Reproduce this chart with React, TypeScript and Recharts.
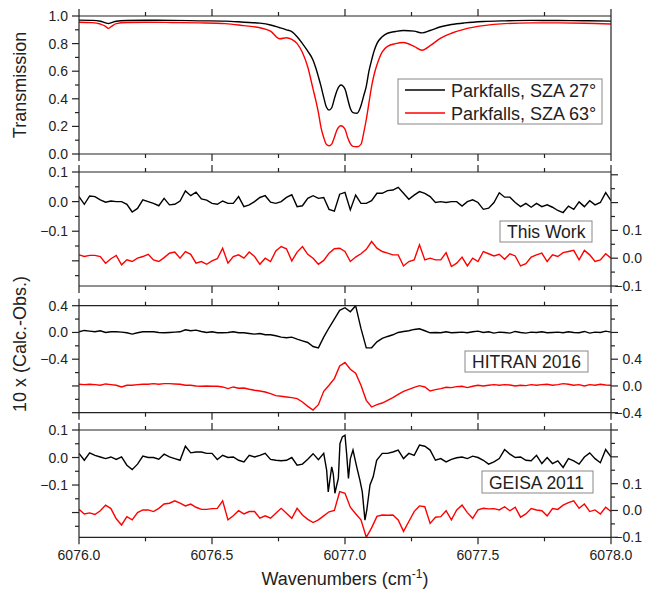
import React from "react";
import { LineChart, Line, XAxis, YAxis } from "recharts";

const FONT = "'Liberation Sans', Arial, Helvetica, sans-serif";
const AXIS = "#222";
const W = 649;
const H = 590;

// x grid of the residual panels (cm-1)
const residX = Array.from({ length: 101 }, (_, i) => Math.round((6076 + i * 0.02) * 100) / 100);

// transmission spectra
const transX = [
  6076.0, 6076.05, 6076.08, 6076.1, 6076.11, 6076.12, 6076.14, 6076.18, 6076.25, 6076.35,
  6076.45, 6076.55, 6076.62, 6076.68, 6076.72, 6076.755, 6076.78, 6076.8, 6076.82, 6076.84,
  6076.86, 6076.88, 6076.89, 6076.9, 6076.91, 6076.92, 6076.93, 6076.94, 6076.95, 6076.96,
  6076.97, 6076.985, 6077.0, 6077.01, 6077.02, 6077.03, 6077.045, 6077.06, 6077.07, 6077.08,
  6077.09, 6077.1, 6077.11, 6077.12, 6077.14, 6077.16, 6077.19, 6077.22, 6077.26, 6077.29,
  6077.32, 6077.36, 6077.4, 6077.45, 6077.52, 6077.6, 6077.7, 6077.8, 6077.9, 6078.0,
];
const sza27 = [
  0.97, 0.968, 0.962, 0.95, 0.945, 0.95, 0.962, 0.967, 0.969, 0.968,
  0.965, 0.963, 0.955, 0.948, 0.935, 0.915, 0.9, 0.887, 0.85, 0.8,
  0.745, 0.68, 0.625, 0.56, 0.49, 0.41, 0.34, 0.318, 0.335, 0.4,
  0.46, 0.5, 0.47, 0.4, 0.33, 0.3, 0.295, 0.35, 0.42, 0.49,
  0.6, 0.68, 0.75, 0.8, 0.85, 0.875, 0.888, 0.895, 0.89, 0.878,
  0.895, 0.922, 0.938, 0.95, 0.96, 0.965, 0.968, 0.967, 0.966, 0.963,
];
const sza63 = [
  0.955, 0.952, 0.942, 0.925, 0.91, 0.922, 0.945, 0.953, 0.955, 0.953,
  0.95, 0.945, 0.93, 0.915, 0.89, 0.835, 0.842, 0.83, 0.8, 0.735,
  0.63, 0.47, 0.39, 0.3, 0.19, 0.12, 0.07, 0.06, 0.072, 0.12,
  0.175, 0.205, 0.18, 0.12, 0.075, 0.055, 0.052, 0.07, 0.15, 0.25,
  0.37, 0.49, 0.58, 0.645, 0.74, 0.78, 0.8, 0.808, 0.78, 0.752,
  0.785, 0.84, 0.875, 0.905, 0.93, 0.945, 0.95, 0.95, 0.948, 0.942,
];

// residuals, This Work
const thisWork27 = [
  0.017, -0.009, 0.019, 0.017, 0.006, -0.002, 0.002, 0.0, 0.0, -0.009,
  -0.035, -0.023, 0.006, 0.0, -0.006, -0.014, 0.011, -0.011, -0.009, 0.002,
  0.036, 0.02, 0.032, 0.009, 0.005, -0.006, -0.009, 0.002, -0.006, -0.006,
  0.017, -0.017, -0.011, 0.0, 0.014, 0.02, -0.002, -0.006, 0.0, 0.014,
  0.023, -0.017, -0.014, 0.011, 0.02, 0.011, 0.014, -0.026, -0.032, 0.025,
  0.031, -0.028, 0.022, -0.006, -0.006, 0.003, 0.028, 0.028, 0.037, 0.039,
  0.048, 0.028, 0.008, 0.022, 0.034, 0.028, 0.017, -0.003, 0.0, -0.003,
  0.0, 0.0, -0.015, 0.0, 0.006, -0.003, -0.026, -0.022, -0.003, 0.03,
  0.015, 0.015, -0.003, -0.017, -0.006, -0.019, -0.006, -0.017, -0.011, -0.019,
  -0.03, -0.037, -0.015, -0.026, -0.001, -0.017, 0.003, -0.011, -0.003, 0.03,
  0.003,
];
const thisWork63 = [
  0.012, 0.006, 0.01, 0.01, 0.006, -0.018, -0.002, 0.01, -0.024, -0.006,
  -0.012, 0.0, 0.006, 0.014, -0.006, -0.012, 0.002, 0.018, 0.022, 0.0,
  0.024, 0.014, -0.018, -0.012, -0.022, -0.01, -0.002, 0.036, -0.018, 0.006,
  0.012, 0.0, 0.022, 0.006, -0.022, 0.0, -0.012, 0.026, 0.042, 0.034,
  -0.01, 0.022, 0.042, 0.014, 0.0, -0.022, -0.008, 0.018, 0.034, 0.036,
  0.024, -0.012, 0.004, 0.016, 0.032, 0.06, 0.036, 0.024, 0.018, 0.012,
  0.012, -0.028, -0.012, -0.006, 0.048, -0.006, 0.0, -0.006, -0.006, 0.02,
  -0.03, -0.018, 0.004, -0.028, 0.0, -0.012, 0.024, 0.016, 0.008, 0.014,
  -0.004, 0.016, 0.008, -0.028, -0.02, 0.004, 0.012, 0.018, -0.012, 0.012,
  0.006, 0.02, 0.024, 0.028, -0.006, 0.028, 0.012, -0.012, -0.006, 0.016,
  0.0,
];

// residuals, HITRAN 2016
const hitran27 = [
  0.01, 0.03, 0.02, 0.01, 0.025, 0.0, 0.01, 0.01, 0.005, -0.005,
  -0.025, -0.005, 0.01, 0.01, 0.01, 0.0, -0.005, 0.0, 0.005, 0.01,
  0.04, 0.025, 0.035, 0.015, 0.0, 0.01, -0.005, -0.005, 0.0, 0.01,
  -0.005, -0.005, -0.015, -0.025, -0.015, -0.035, -0.035, -0.05, -0.07, -0.08,
  -0.07, -0.1, -0.125, -0.15, -0.21, -0.23, -0.07, 0.07, 0.2, 0.33,
  0.37, 0.31, 0.4, 0.06, -0.23, -0.23, -0.14, -0.09, -0.06, -0.035,
  0.0, 0.015, 0.025, 0.045, 0.055, 0.025, -0.005, 0.0, -0.005, 0.01,
  -0.005, 0.0, 0.005, -0.005, 0.01, 0.02, 0.0, 0.01, -0.01, 0.005,
  0.0, -0.01, 0.015, 0.0, -0.01, 0.005, 0.0, 0.01, -0.005, 0.0,
  0.005, -0.005, 0.01, 0.0, -0.005, 0.015, -0.01, 0.005, 0.0, 0.02,
  0.005,
];
const hitran63 = [
  0.025, 0.02, 0.025, 0.02, 0.01, 0.03, 0.02, 0.01, -0.015, 0.01,
  0.01, 0.02, 0.025, 0.025, 0.035, 0.025, 0.035, 0.035, 0.03, 0.025,
  0.01, 0.01, 0.0, -0.005, 0.0, -0.005, -0.005, -0.015, -0.04, -0.015,
  -0.035, -0.03, -0.05, -0.065, -0.075, -0.09, -0.115, -0.145, -0.155, -0.165,
  -0.175, -0.19, -0.24, -0.305, -0.36, -0.28, -0.08, 0.01, 0.11, 0.3,
  0.35, 0.25, 0.19, 0.01, -0.215, -0.315, -0.28, -0.255, -0.215, -0.175,
  -0.125, -0.08, -0.05, -0.02, 0.005, -0.015, -0.075, -0.055, -0.04, -0.02,
  -0.025, -0.01, -0.005, -0.025, -0.005, 0.01, 0.0, 0.01, 0.02, 0.01,
  0.02, 0.015, 0.0, 0.01, 0.005, 0.02, 0.01, 0.02, 0.025, 0.01,
  0.02, 0.035, 0.025, 0.01, 0.02, 0.0, 0.02, 0.01, 0.025, 0.015,
  0.01,
];

// residuals, GEISA 2011 (black one sampled finer around the line centre)
const geisaCoreX = [
  6076.931, 6076.937, 6076.944, 6076.95, 6076.956, 6076.962, 6076.969, 6076.975, 6076.981, 6076.99,
  6077.0, 6077.006, 6077.013, 6077.02, 6077.03, 6077.044, 6077.056, 6077.065, 6077.075, 6077.082,
  6077.094, 6077.106, 6077.119,
];
const geisa27X = [...residX.slice(0, 47), ...geisaCoreX, ...residX.slice(57)];
const geisa27 = [
  0.015, -0.01, 0.017, 0.008, 0.002, -0.004, 0.002, -0.007, 0.002, -0.028,
  -0.044, -0.024, 0.005, 0.0, 0.0, -0.006, 0.012, 0.002, -0.004, -0.01,
  0.041, 0.017, 0.02, 0.02, 0.015, 0.015, -0.007, 0.008, 0.0, 0.002,
  -0.01, -0.016, 0.008, 0.002, 0.008, 0.015, -0.007, -0.01, -0.012, -0.01,
  0.0, -0.028, -0.024, -0.006, 0.014, -0.008, 0.015,
  -0.046, -0.125, -0.076, -0.034, -0.06, -0.13, -0.1, -0.076, 0.05, 0.075,
  0.081, 0.015, -0.076, -0.005, 0.027, -0.034, -0.082, -0.125, -0.228, -0.19,
  -0.1, -0.07, -0.01,
  0.015, 0.015, 0.02, 0.027, -0.004, 0.015, 0.008, 0.045, 0.041, 0.027,
  -0.01, -0.004, -0.016, -0.007, -0.001, 0.002, -0.004, 0.005, 0.0, -0.01,
  -0.024, -0.016, -0.004, 0.029, 0.012, 0.0, 0.002, -0.01, -0.012, 0.008,
  -0.022, 0.0, -0.022, -0.012, -0.036, -0.004, -0.012, -0.024, 0.002, 0.017,
  -0.004, -0.019, 0.029, 0.002,
];
const geisa63 = [
  0.004, -0.013, -0.009, -0.015, -0.001, 0.02, 0.007, -0.031, -0.054, -0.023,
  -0.035, -0.008, 0.002, 0.002, -0.004, 0.008, 0.024, 0.027, 0.036, 0.027,
  0.017, 0.024, 0.012, 0.004, 0.004, 0.007, 0.008, 0.036, -0.035, -0.02,
  -0.001, -0.013, -0.004, -0.004, -0.029, -0.02, -0.029, -0.01, 0.008, -0.01,
  -0.029, 0.008, -0.017, -0.033, -0.045, -0.035, -0.02, -0.005, 0.0, 0.07,
  0.064, 0.012, -0.012, -0.035, -0.1, -0.065, -0.022, -0.017, -0.018, -0.017,
  -0.035, -0.078, -0.041, -0.004, 0.017, 0.014, -0.048, -0.025, -0.023, -0.001,
  -0.035, 0.002, 0.02, -0.008, -0.029, 0.002, 0.008, 0.006, 0.007, 0.002,
  0.014, -0.001, 0.012, -0.025, -0.013, 0.007, 0.002, -0.001, -0.02, 0.007,
  0.004, 0.02, 0.029, 0.036, 0.008, 0.024, -0.004, 0.002, -0.013, 0.012,
  -0.004,
];

// ticks
const xTicks = [6076, 6076.25, 6076.5, 6076.75, 6077, 6077.25, 6077.5, 6077.75, 6078];
const xMajors = [6076, 6076.5, 6077, 6077.5, 6078];

const pairRows = (xs: number[], a: number[], b: number[]) =>
  xs.map((x, i) => ({ x, a: a[i], b: b[i] }));
const rows = (xs: number[], ys: number[]) => xs.map((x, i) => ({ x, y: ys[i] }));

function fmt(v: number) {
  return v.toFixed(1).replace("-", "\u2212");
}

function AxisTick(props: any) {
  const { x, y, payload, side, majors = [], labels = [] } = props;
  const v = payload.value;
  const has = (arr: number[]) => arr.some((m) => Math.abs(m - v) < 1e-6);
  const len = has(majors) ? 7 : 4;
  let x2 = x;
  let y2 = y;
  let tx = x;
  let ty = y;
  let anchor = "middle";
  if (side === "left") {
    x2 = x - len;
    tx = x - 11;
    ty = y + 5;
    anchor = "end";
  } else if (side === "right") {
    x2 = x + len;
    tx = x + 31;
    ty = y + 5;
    anchor = "end";
  } else if (side === "top") {
    y2 = y - len;
  } else {
    y2 = y + len;
    ty = y + 23;
  }
  return (
    <g>
      <line x1={x} y1={y} x2={x2} y2={y2} stroke={AXIS} strokeWidth={1.2} />
      {has(labels) && (
        <text x={tx} y={ty} textAnchor={anchor} fontSize={14} fontFamily={FONT} fill="#222">
          {fmt(v)}
        </text>
      )}
    </g>
  );
}

interface AxisSpec {
  domain: number[];
  ticks: number[];
  majors: number[];
  labels: number[];
}

interface SeriesSpec {
  key: string;
  axis: string;
  color: string;
  data?: any[];
  smooth?: boolean;
}

interface PanelProps {
  top: number;
  bottom: number;
  data?: any[];
  left: AxisSpec;
  right?: AxisSpec;
  xLabels?: boolean;
  series: SeriesSpec[];
}

const axisLine = { stroke: AXIS, strokeWidth: 1.2 };

// every panel is a full-size chart laid over the others; margins place its plot box
function Panel({ top, bottom, data, left, right, xLabels, series }: PanelProps) {
  return (
    <div style={{ position: "absolute", left: 0, top: 0 }}>
      <LineChart
        width={W}
        height={H}
        data={data}
        margin={{ top: top - 1, bottom: H - bottom - 1, left: 0, right: 0 }}
      >
        <XAxis
          xAxisId="b"
          type="number"
          dataKey="x"
          domain={[6076, 6078]}
          allowDataOverflow
          ticks={xTicks}
          interval={0}
          height={1}
          tickSize={0}
          tickMargin={0}
          tickLine={false}
          axisLine={axisLine}
          tick={<AxisTick side="bottom" majors={xMajors} labels={xLabels ? xMajors : []} />}
        />
        <XAxis
          xAxisId="t"
          orientation="top"
          type="number"
          dataKey="x"
          domain={[6076, 6078]}
          allowDataOverflow
          ticks={xTicks}
          interval={0}
          height={1}
          tickSize={0}
          tickMargin={0}
          tickLine={false}
          axisLine={axisLine}
          tick={<AxisTick side="top" majors={xMajors} labels={[]} />}
        />
        <YAxis
          yAxisId="L"
          type="number"
          width={79}
          domain={left.domain}
          allowDataOverflow
          ticks={left.ticks}
          interval={0}
          tickSize={0}
          tickMargin={0}
          tickLine={false}
          axisLine={axisLine}
          tick={<AxisTick side="left" majors={left.majors} labels={left.labels} />}
        />
        {right ? (
          <YAxis
            yAxisId="R"
            orientation="right"
            type="number"
            width={38}
            domain={right.domain}
            allowDataOverflow
            ticks={right.ticks}
            interval={0}
            tickSize={0}
            tickMargin={0}
            tickLine={false}
            axisLine={axisLine}
            tick={<AxisTick side="right" majors={right.majors} labels={right.labels} />}
          />
        ) : (
          <YAxis
            yAxisId="R"
            orientation="right"
            type="number"
            width={38}
            domain={[0, 1]}
            tick={false}
            tickLine={false}
            axisLine={axisLine}
          />
        )}
        {series.map((s) => (
          <Line
            key={s.key + s.color}
            data={s.data}
            xAxisId="b"
            yAxisId={s.axis}
            dataKey={s.key}
            type={s.smooth ? "monotone" : "linear"}
            stroke={s.color}
            strokeWidth={1.4}
            dot={false}
            activeDot={false}
            isAnimationActive={false}
          />
        ))}
      </LineChart>
    </div>
  );
}

const smallLeft: AxisSpec = {
  domain: [-0.285, 0.1],
  ticks: [0.1, 0.05, 0, -0.05, -0.1, -0.15, -0.2, -0.25],
  majors: [0.1, 0, -0.1, -0.2],
  labels: [0.1, 0, -0.1],
};
const smallRight: AxisSpec = {
  domain: [-0.1, 0.31],
  ticks: [-0.1, -0.05, 0, 0.05, 0.1, 0.15, 0.2, 0.25, 0.3],
  majors: [-0.1, 0, 0.1, 0.2, 0.3],
  labels: [-0.1, 0, 0.1],
};

export default function App() {
  const labelText = { fontFamily: FONT, fill: "#222" };
  return (
    <div style={{ position: "absolute", left: 0, top: 0, width: W, height: H, background: "#fff" }}>
      <Panel
        top={16}
        bottom={154}
        data={pairRows(transX, sza27, sza63)}
        left={{
          domain: [0, 1],
          ticks: [0, 0.1, 0.2, 0.3, 0.4, 0.5, 0.6, 0.7, 0.8, 0.9, 1],
          majors: [0, 0.2, 0.4, 0.6, 0.8, 1],
          labels: [0, 0.2, 0.4, 0.6, 0.8, 1],
        }}
        series={[
          { key: "a", axis: "L", color: "#000000", smooth: true },
          { key: "b", axis: "L", color: "#ff0000", smooth: true },
        ]}
      />
      <Panel
        top={172}
        bottom={286}
        data={pairRows(residX, thisWork27, thisWork63)}
        left={smallLeft}
        right={smallRight}
        series={[
          { key: "a", axis: "L", color: "#000000" },
          { key: "b", axis: "R", color: "#ff0000" },
        ]}
      />
      <Panel
        top={305.7}
        bottom={412.7}
        data={pairRows(residX, hitran27, hitran63)}
        left={{
          domain: [-1.2, 0.4],
          ticks: [0.4, 0.2, 0, -0.2, -0.4, -0.6, -0.8, -1.0, -1.2],
          majors: [0.4, 0, -0.4, -0.8, -1.2],
          labels: [0.4, 0, -0.4],
        }}
        right={{
          domain: [-0.4, 1.2],
          ticks: [-0.4, -0.2, 0, 0.2, 0.4, 0.6, 0.8, 1.0, 1.2],
          majors: [-0.4, 0, 0.4, 0.8, 1.2],
          labels: [-0.4, 0, 0.4],
        }}
        series={[
          { key: "a", axis: "L", color: "#000000" },
          { key: "b", axis: "R", color: "#ff0000" },
        ]}
      />
      <Panel
        top={430}
        bottom={537.3}
        data={rows(residX, geisa63)}
        left={{ ...smallLeft, domain: [-0.29, 0.1] }}
        right={{ ...smallRight, domain: [-0.1, 0.3] }}
        xLabels
        series={[
          { key: "y", axis: "L", color: "#000000", data: rows(geisa27X, geisa27) },
          { key: "y", axis: "R", color: "#ff0000" },
        ]}
      />
      <svg width={W} height={H} style={{ position: "absolute", left: 0, top: 0, pointerEvents: "none" }}>
        <text x={26} y={85} transform="rotate(-90 26 85)" textAnchor="middle" fontSize={18} {...labelText}>
          Transmission
        </text>
        <text x={26} y={344} transform="rotate(-90 26 344)" textAnchor="middle" fontSize={18} {...labelText}>
          10 x (Calc.-Obs.)
        </text>
        <text x={345} y={585} textAnchor="middle" fontSize={18} {...labelText}>
          Wavenumbers (cm
          <tspan dy={-7} fontSize={12}>
            -1
          </tspan>
          <tspan dy={7}>)</tspan>
        </text>

        <rect x={398} y={79} width={204} height={45} fill="#fff" stroke="#888" strokeWidth={1} />
        <line x1={405} y1={90} x2={445} y2={90} stroke="#000" strokeWidth={1.5} />
        <line x1={405} y1={113} x2={445} y2={113} stroke="#ff0000" strokeWidth={1.5} />
        <text x={451} y={97} fontSize={18} {...labelText}>
          Parkfalls, SZA 27°
        </text>
        <text x={451} y={120} fontSize={18} {...labelText}>
          Parkfalls, SZA 63°
        </text>

        <rect x={500} y={221} width={92} height={21} fill="#fff" stroke="#888" strokeWidth={1} />
        <text x={507} y={238} fontSize={17.5} {...labelText}>
          This Work
        </text>
        <rect x={465} y={351} width={123} height={21} fill="#fff" stroke="#888" strokeWidth={1} />
        <text x={472} y={368} fontSize={17.5} {...labelText}>
          HITRAN 2016
        </text>
        <rect x={482} y={471} width={111} height={22} fill="#fff" stroke="#888" strokeWidth={1} />
        <text x={489} y={489} fontSize={17.5} {...labelText}>
          GEISA 2011
        </text>
      </svg>
    </div>
  );
}
